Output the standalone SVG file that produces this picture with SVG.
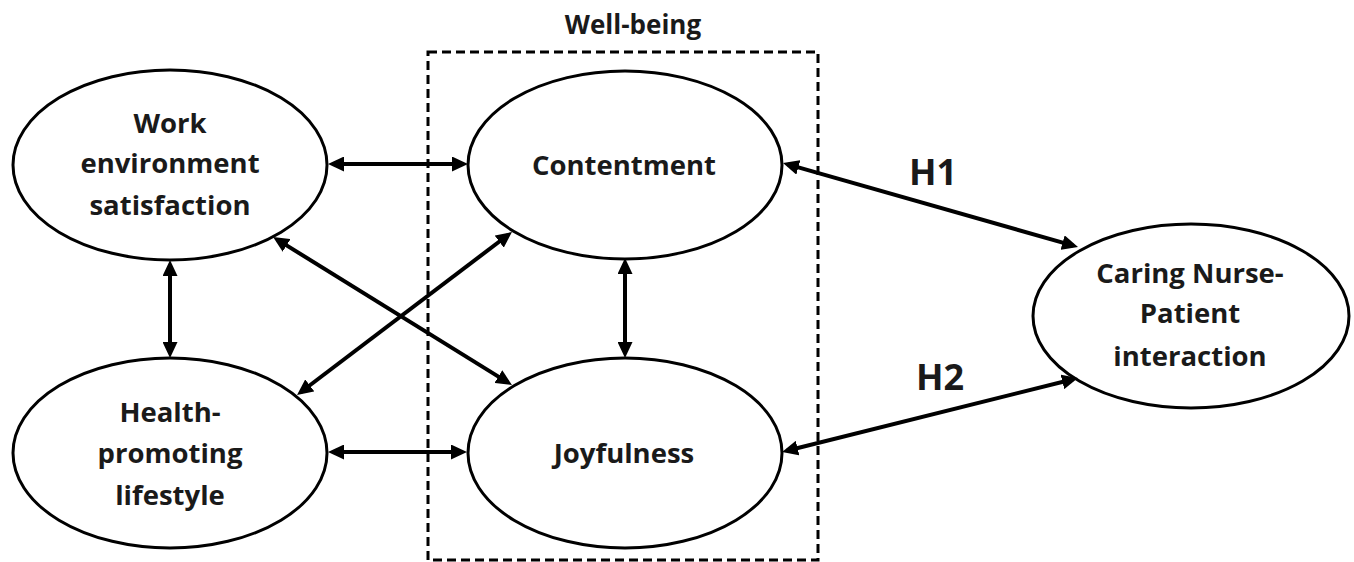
<svg xmlns="http://www.w3.org/2000/svg" width="1354" height="562" viewBox="0 0 1354 562">
<style>
.node{fill:#fff;stroke:#000;stroke-width:3}
.lbl{font-family:"Open Sans","Liberation Sans",sans-serif;font-weight:700;font-size:27.5px;fill:#1a1a1a;text-anchor:middle}
.t{font-size:26px}
.h{font-size:36px}
.conn line{stroke:#000;stroke-width:4;marker-start:url(#ah);marker-end:url(#ah)}
</style>
<defs>
<marker id="ah" markerUnits="userSpaceOnUse" markerWidth="17" markerHeight="15" viewBox="0 0 17 15" refX="11" refY="7.5" orient="auto-start-reverse">
<path d="M0,0 L16,7.5 L0,15 z" fill="#000"/>
</marker>
</defs>
<rect width="1354" height="562" fill="#fff"/>
<g id="wellbeing">
<rect x="428" y="52" width="390" height="508" fill="none" stroke="#000" stroke-width="3" stroke-dasharray="9,5"/>
<text class="lbl t" x="633" y="34">Well-being</text>
</g>
<g id="work">
<ellipse class="node" cx="170" cy="165" rx="157" ry="95"/>
<text class="lbl" x="170" y="133">Work</text>
<text class="lbl" x="170" y="173">environment</text>
<text class="lbl" x="170" y="215">satisfaction</text>
</g>
<g id="health">
<ellipse class="node" cx="170" cy="453" rx="157" ry="95"/>
<text class="lbl" x="170" y="422">Health-</text>
<text class="lbl" x="170" y="463">promoting</text>
<text class="lbl" x="170" y="505">lifestyle</text>
</g>
<g id="contentment">
<ellipse class="node" cx="625" cy="165" rx="157" ry="94"/>
<text class="lbl" x="624" y="175">Contentment</text>
</g>
<g id="joyfulness">
<ellipse class="node" cx="625" cy="453" rx="157" ry="95"/>
<text class="lbl" x="624" y="463">Joyfulness</text>
</g>
<g id="caring">
<ellipse class="node" cx="1191" cy="316" rx="158" ry="92"/>
<text class="lbl" x="1190" y="283">Caring Nurse-</text>
<text class="lbl" x="1190" y="323">Patient</text>
<text class="lbl" x="1190" y="366">interaction</text>
</g>
<g id="connectors">
<g class="conn">
<line x1="333" y1="164" x2="463" y2="164"/>
<line x1="333" y1="452" x2="462" y2="452"/>
<line x1="170" y1="265" x2="170" y2="353"/>
<line x1="625" y1="263" x2="625" y2="353"/>
<line x1="277.3" y1="239.6" x2="507.7" y2="382.4"/>
<line x1="508" y1="235" x2="301" y2="392"/>
<line x1="787.8" y1="164.4" x2="1073.2" y2="245.6"/>
<line x1="786.9" y1="450.8" x2="1073.1" y2="379.2"/>
</g>
<text class="lbl h" x="933" y="185">H1</text>
<text class="lbl h" x="940" y="390">H2</text>
</g>
</svg>
